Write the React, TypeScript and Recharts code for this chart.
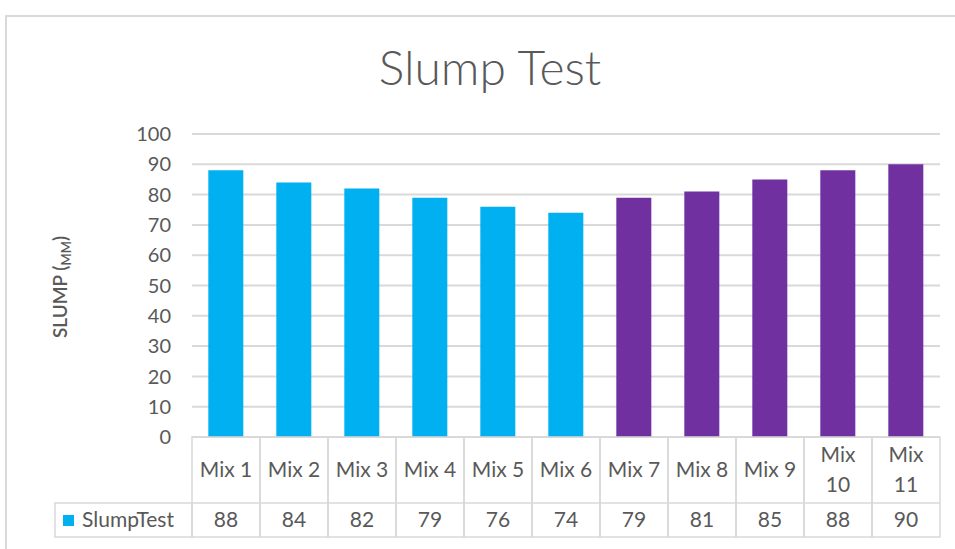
import React from 'react';
import { BarChart, Bar, XAxis, YAxis, CartesianGrid, Cell } from 'recharts';

// chart data
const mixes = ['Mix 1', 'Mix 2', 'Mix 3', 'Mix 4', 'Mix 5', 'Mix 6', 'Mix 7', 'Mix 8', 'Mix 9', 'Mix 10', 'Mix 11'];
const slump = [88, 84, 82, 79, 76, 74, 79, 81, 85, 88, 90];
const batch = ['A', 'A', 'A', 'A', 'A', 'A', 'B', 'B', 'B', 'B', 'B'];
const yTicks = [0, 10, 20, 30, 40, 50, 60, 70, 80, 90, 100];
const seriesName = 'SlumpTest';
const title = 'Slump Test';

const batchColors: Record<string, string> = { A: '#00B0F0', B: '#7030A0' };

const W = 955;
const H = 549;
const LEFT = 192;
const RIGHT = 15;
const X_AXIS_H = 112;
const BAND = (W - LEFT - RIGHT) / mixes.length;
const CAT_ROW = 66;
const VAL_ROW = 34;
const GRID = '#d9d9d9';
const TEXT = '#595959';
const FONT = 'Lato, "Open Sans", sans-serif';

const data = mixes.map((m, i) => ({ mix: m, slump: slump[i], batch: batch[i] }));

const TableTick = (props: any) => {
  const { x, y, payload, index } = props;
  const top = y;
  const left = x - BAND / 2;
  const label: string = String(payload.value);
  const parts = label.length > 5 ? label.split(' ') : [label];
  const midCat = top + CAT_ROW / 2;
  return (
    <g>
      <rect x={left} y={top} width={BAND} height={CAT_ROW + VAL_ROW} fill="none" stroke={GRID} strokeWidth={1.5} />
      <line x1={left} x2={left + BAND} y1={top + CAT_ROW} y2={top + CAT_ROW} stroke={GRID} strokeWidth={1.5} />
      <text x={x} y={midCat} textAnchor="middle" fill={TEXT} fontSize={21} fontFamily={FONT}>
        {parts.map((p, i) => (
          <tspan key={i} x={x} dy={i === 0 ? (parts.length === 1 ? 7 : -8) : 30}>{p}</tspan>
        ))}
      </text>
      <text x={x} y={top + CAT_ROW + VAL_ROW / 2 + 7} textAnchor="middle" fill={TEXT} fontSize={21} fontFamily={FONT}>
        {data[index].slump}
      </text>
      {index === 0 && (
        <g>
          <rect x={55} y={top + CAT_ROW} width={left - 55} height={VAL_ROW} fill="none" stroke={GRID} strokeWidth={1.5} />
          <rect x={63} y={top + CAT_ROW + 12} width={11} height={11} fill={batchColors.A} />
          <text x={82} y={top + CAT_ROW + VAL_ROW / 2 + 7} fill={TEXT} fontSize={21} fontFamily={FONT}>{seriesName}</text>
        </g>
      )}
    </g>
  );
};

const YLabel = () => (
  <text transform="translate(67,287) rotate(-90)" textAnchor="middle" fill={TEXT} fontSize={19} fontWeight={600} fontFamily={FONT}>
    SLUMP (<tspan fontSize={13} dy={4}>MM</tspan><tspan dy={-4}>)</tspan>
  </text>
);

export default function App() {
  return (
    <div style={{ position: 'absolute', left: 0, top: 0, width: W, height: H, background: '#fff', overflow: 'hidden' }}>
      <div style={{ position: 'absolute', left: 5, top: 15, width: W, height: H, borderTop: `2px solid ${GRID}`, borderLeft: `2px solid ${GRID}` }} />
      <div style={{ position: 'absolute', left: 0, top: 38, width: 980, textAlign: 'center', fontFamily: FONT, fontWeight: 300, fontSize: 48, color: TEXT }}>
        {title}
      </div>
      <BarChart width={W} height={H} data={data} margin={{ top: 134, right: RIGHT, bottom: 0, left: 0 }} barCategoryGap="24%" style={{ position: 'absolute', left: 0, top: 0 }}>
        <CartesianGrid vertical={false} stroke={GRID} strokeWidth={2} />
        <YAxis
          width={LEFT}
          domain={[0, 100]}
          ticks={yTicks}
          axisLine={false}
          tickLine={false}
          tickMargin={15}
          tick={{ fill: TEXT, fontSize: 20, fontFamily: FONT }}
          label={{ content: () => <YLabel /> }}
        />
        <XAxis dataKey="mix" height={X_AXIS_H} axisLine={false} tickLine={false} tickSize={0} tickMargin={0} interval={0} tick={<TableTick />} />
        <Bar dataKey="slump" name={seriesName} isAnimationActive={false}>
          {data.map((d, i) => (
            <Cell key={i} fill={batchColors[d.batch]} />
          ))}
        </Bar>
      </BarChart>
    </div>
  );
}
